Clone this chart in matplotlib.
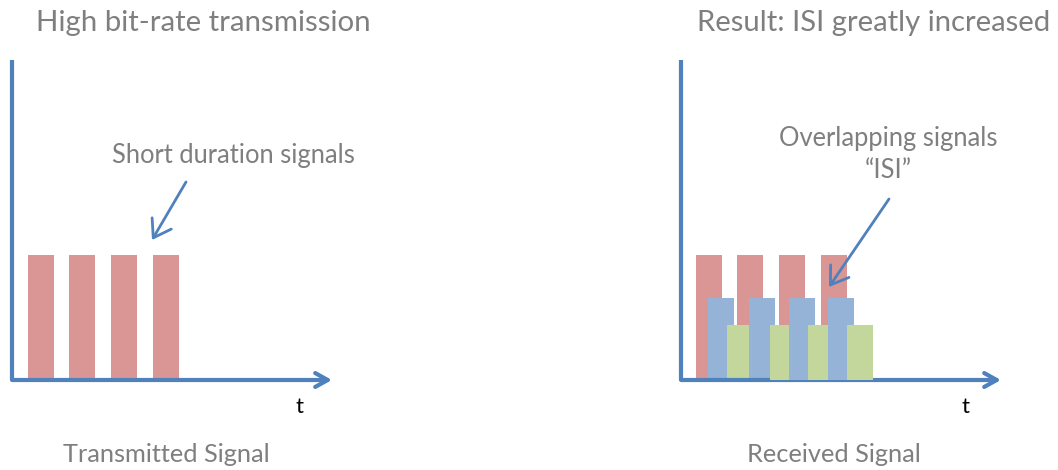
import matplotlib
matplotlib.use('Agg')
import matplotlib.pyplot as plt

plt.rcParams['font.family'] = ['Lato', 'DejaVu Sans']

# pulse data, time in symbol periods, amplitude relative to transmitted pulse
tx_start = [0.38, 1.37, 2.38, 3.38]
tx_width = 0.62
tx_amp = 1.0

rx_red_start = [0.36, 1.34, 2.35, 3.36]
rx_blue_start = [0.65, 1.63, 2.59, 3.53]
rx_green_start = [1.10, 2.14, 3.05, 3.98]
rx_width = 0.63
rx_red_amp = 1.0
rx_blue_amp = 0.66
rx_green_amp = 0.44

RED = '#d99694'
BLUE = '#95b3d7'
GREEN = '#c3d69b'
AXIS = '#4f81bd'
GREY = '#7f7f7f'

W, H = 1058, 470
fig = plt.figure(figsize=(W / 100, H / 100), dpi=100)


def px(x, y):
    return x / W, 1 - y / H


def panel(x0):
    ax = fig.add_axes([x0 / W, 1 - 380 / H, 320 / W, 320 / H])
    ax.set_xlim(0, 320 / 41.67)
    ax.set_ylim(0, 320 / 125)
    ax.axis('off')
    ax.plot([0, 0], [0, 1], transform=ax.transAxes, color=AXIS, lw=3,
            clip_on=False, solid_capstyle='butt', zorder=5)
    ax.annotate('', xy=(1, 0), xytext=(0, 0), xycoords='axes fraction',
                arrowprops=dict(arrowstyle='->,head_length=0.9,head_width=0.5',
                                color=AXIS, lw=3, shrinkA=0, shrinkB=0),
                zorder=5)
    return ax


ax1 = panel(12)
ax1.bar(tx_start, [tx_amp] * len(tx_start), width=tx_width, align='edge',
        color=RED, edgecolor='none')

ax2 = panel(681)
ax2.bar(rx_red_start, [rx_red_amp] * len(rx_red_start), width=rx_width,
        align='edge', color=RED, edgecolor='none', zorder=1)
for i in range(len(rx_blue_start)):
    ax2.bar(rx_blue_start[i], rx_blue_amp, width=rx_width, align='edge',
            color=BLUE, edgecolor='none', zorder=2 + 2 * i)
    ax2.bar(rx_green_start[i], rx_green_amp, width=rx_width, align='edge',
            color=GREEN, edgecolor='none', zorder=3 + 2 * i)

# titles and labels
fig.text(*px(36, 23), 'High bit-rate transmission', fontsize=21.2, color=GREY,
         ha='left', va='center')
fig.text(*px(697, 23), 'Result: ISI greatly increased', fontsize=21.1,
         color=GREY, ha='left', va='center')
fig.text(*px(233, 156), 'Short duration signals', fontsize=18.4, color=GREY,
         ha='center', va='center')
fig.text(*px(888, 139), 'Overlapping signals', fontsize=18.4, color=GREY,
         ha='center', va='center')
fig.text(*px(888, 171), '\u201cISI\u201d', fontsize=18.4, color=GREY,
         ha='center', va='center')
fig.text(*px(300, 407), 't', fontsize=16, color='black', ha='center',
         va='center')
fig.text(*px(966, 407), 't', fontsize=16, color='black', ha='center',
         va='center')
fig.text(*px(166, 455), 'Transmitted Signal', fontsize=18.3, color=GREY,
         ha='center', va='center')
fig.text(*px(834, 455), 'Received Signal', fontsize=18.3, color=GREY,
         ha='center', va='center')

# callout arrows
for (x0, y0), (x1, y1) in [((186, 182), (152, 240)), ((889, 199), (829, 287))]:
    fig.add_artist(matplotlib.patches.FancyArrowPatch(
        px(x0, y0), px(x1, y1), transform=fig.transFigure,
        arrowstyle='->,head_length=0.6,head_width=0.4', color=AXIS, lw=2,
        mutation_scale=20, shrinkA=0, shrinkB=0, zorder=10))

fig.savefig('out.png', dpi=100)
